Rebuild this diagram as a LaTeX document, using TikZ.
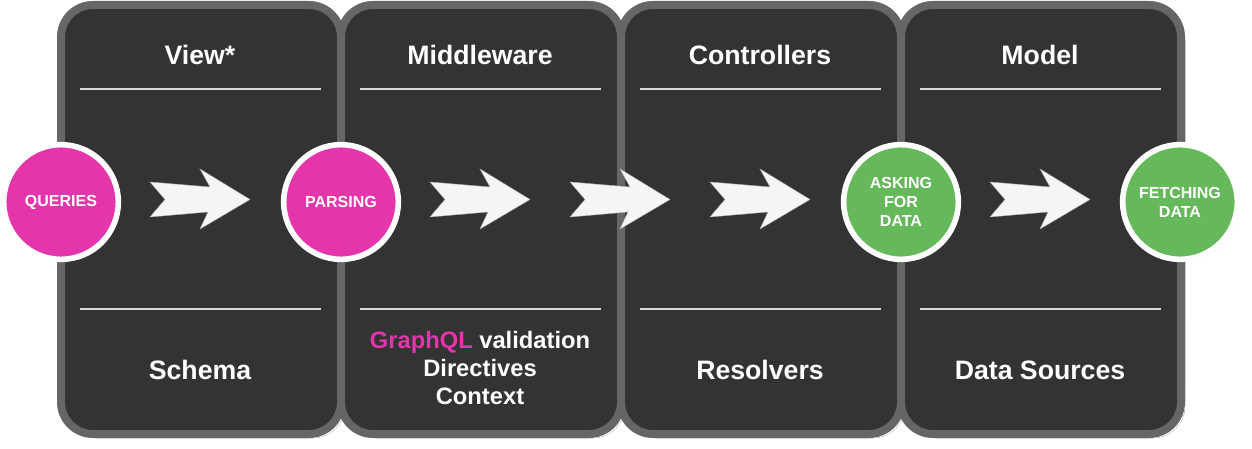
\documentclass[tikz,border=0pt]{standalone}
\usepackage{fontspec}
\setmainfont{Liberation Sans}
\usetikzlibrary{positioning,shadows}
\definecolor{gqlpink}{HTML}{E535AB}
\definecolor{datagreen}{HTML}{66B95B}
\definecolor{panelbg}{HTML}{333333}
\definecolor{panelrim}{HTML}{666666}
\definecolor{shade}{HTML}{D6D6EA}
\tikzset{
  panel/.style   = {rectangle, draw=panelrim, fill=panelbg, line width=6pt,
                    rounded corners=24pt, minimum width=210pt, minimum height=321.75pt,
                    inner sep=0pt},
  rule/.style    = {draw=white!85!black, line width=1.5pt},
  title/.style   = {text=white, font=\bfseries\fontsize{20}{24}\selectfont},
  layer/.style   = {title, align=center},
  mid/.style     = {text=white, align=center, font=\bfseries\fontsize{17.8}{20.7}\selectfont},
  stage/.style   = {circle, draw=white, line width=4.2pt, minimum size=86pt, inner sep=0pt,
                    text=white, align=center, font=\bfseries\fontsize{12}{14.25}\selectfont,
                    drop shadow={shadow xshift=1.2pt, shadow yshift=-1.8pt, fill=shade, opacity=1}},
  query/.style   = {stage, fill=gqlpink},
  fetch/.style   = {stage, fill=datagreen},
  blockarrow/.style = {fill=white!96!black, draw=white!70!black, line width=0.3pt},
}

\begin{document}
\begin{tikzpicture}[x=0.75pt, y=-0.75pt]
    \useasboundingbox (0,0) rectangle (1252,449);
    % schatten der spalten
    \foreach \i in {0,...,3}
      \fill[shade, rounded corners=24pt] (64+280*\i,9) rectangle (345+280*\i,438);
    % spalten
    \node[panel] (view) at (201,219.5) {};
    \node[panel] (midw) at (481,219.5) {};
    \node[panel] (ctrl) at (761,219.5) {};
    \node[panel] (modl) at (1041,219.5) {};
    % trennlinien
    \foreach \i in {0,...,3} {
      \draw[rule] (80+280*\i,89) -- (321+280*\i,89);
      \draw[rule] (80+280*\i,309) -- (321+280*\i,309);
    }
    % kopfzeilen
    \node[title] (viewT) at (200,55) {View*};
    \node[title] (midwT) at (480,55) {Middleware};
    \node[title] (ctrlT) at (760,55) {Controllers};
    \node[title] (modlT) at (1040,55) {Model};
    % fusszeilen
    \node[layer] (viewB) at (200,370) {Schema};
    \node[mid]   (midwB) at (480,368) {{\color{gqlpink}GraphQL} validation\\Directives\\Context};
    \node[layer] (ctrlB) at (760,370) {Resolvers};
    \node[layer] (modlB) at (1040,370) {Data Sources};
    % pfeile
    \foreach \x in {150,430,570,710,990}
      \draw[blockarrow] (\x,182) -- (\x+15,199.5) -- (\x,217) -- (\x+58,212) -- (\x+50,229)
        -- (\x+100,199.5) -- (\x+50,169) -- (\x+60,187) -- cycle;
    % stationen
    \node[query] (queries) at (61,202)  {QUERIES};
    \node[query] (parsing) at (341,202) {PARSING};
    \node[fetch] (asking)  at (901,202) {ASKING\\FOR\\DATA};
    \node[fetch] (fetching) at (1180,202) {FETCHING\\DATA};
\end{tikzpicture}
\end{document}
